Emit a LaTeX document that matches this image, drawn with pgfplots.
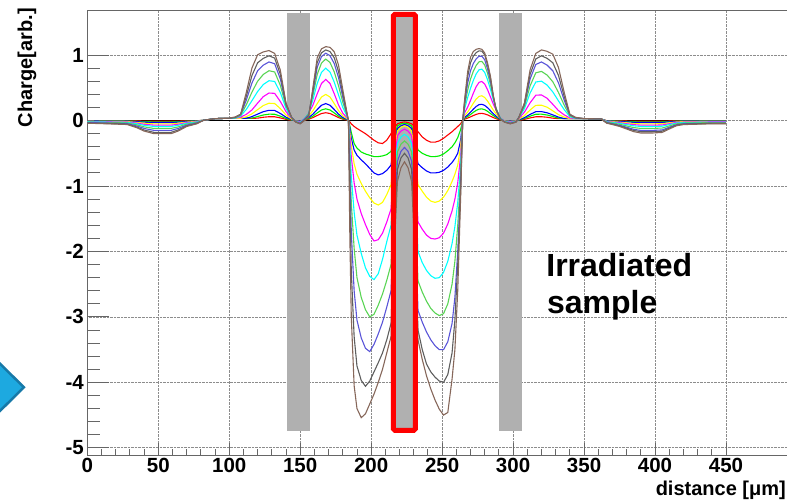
\documentclass[border=0pt]{standalone}
\usepackage{pgfplots}
\pgfplotsset{compat=1.18}
\usepackage{pgfplotstable}
\usepackage{fontspec}
\setmainfont{Liberation Sans}

\definecolor{cRD}{RGB}{255,0,0}
\definecolor{cGN}{RGB}{0,238,0}
\definecolor{cBL}{RGB}{0,0,255}
\definecolor{cYE}{RGB}{255,255,0}
\definecolor{cMG}{RGB}{255,0,255}
\definecolor{cCY}{RGB}{0,255,255}
\definecolor{cLG}{HTML}{59D454}
\definecolor{cSL}{HTML}{5954D8}
\definecolor{cGR}{HTML}{5E5E5E}
\definecolor{cBR}{HTML}{86675A}
\definecolor{bandgray}{HTML}{B0B0B0}
\definecolor{arrowfill}{HTML}{1DA9E0}
\definecolor{arrowedge}{HTML}{1779A8}

\pgfplotstableread{
x r g b y m c lg sl gr br
0 -0.002 -0.004 -0.006 -0.010 -0.014 -0.018 -0.024 -0.030 -0.036 -0.040
15 -0.003 -0.005 -0.008 -0.013 -0.018 -0.023 -0.030 -0.038 -0.045 -0.050
28 -0.003 -0.006 -0.009 -0.015 -0.021 -0.027 -0.036 -0.045 -0.054 -0.060
35 -0.006 -0.011 -0.017 -0.028 -0.039 -0.050 -0.066 -0.083 -0.099 -0.110
40 -0.008 -0.016 -0.024 -0.040 -0.056 -0.072 -0.096 -0.120 -0.144 -0.160
47 -0.010 -0.020 -0.030 -0.050 -0.070 -0.090 -0.120 -0.150 -0.180 -0.200
59 -0.010 -0.020 -0.030 -0.050 -0.070 -0.090 -0.120 -0.150 -0.180 -0.200
64 -0.008 -0.016 -0.024 -0.040 -0.056 -0.072 -0.096 -0.120 -0.144 -0.160
70 -0.005 -0.009 -0.014 -0.023 -0.032 -0.041 -0.054 -0.068 -0.081 -0.090
77 -0.003 -0.005 -0.008 -0.013 -0.018 -0.023 -0.030 -0.038 -0.045 -0.050
82 0.005 0.005 0.005 0.005 0.005 0.005 0.005 0.005 0.005 0.005
90 0.030 0.030 0.030 0.030 0.030 0.030 0.030 0.030 0.030 0.030
100 0.035 0.035 0.035 0.035 0.035 0.035 0.035 0.035 0.035 0.038
104 0.035 0.035 0.035 0.035 0.035 0.035 0.039 0.045 0.050 0.054
108 0.035 0.035 0.035 0.035 0.052 0.069 0.081 0.089 0.094 0.096
112 0.035 0.035 0.035 0.059 0.095 0.170 0.239 0.311 0.369 0.428
116 0.035 0.038 0.061 0.103 0.163 0.304 0.435 0.575 0.688 0.803
120 0.037 0.062 0.099 0.167 0.267 0.444 0.601 0.760 0.883 1.006
124 0.051 0.085 0.136 0.230 0.366 0.551 0.705 0.847 0.951 1.049
128 0.059 0.098 0.157 0.265 0.421 0.609 0.762 0.896 0.990 1.070
132 0.058 0.097 0.155 0.261 0.416 0.598 0.743 0.869 0.955 1.027
136 0.041 0.068 0.109 0.184 0.292 0.429 0.539 0.637 0.707 0.770
140 0.019 0.032 0.051 0.086 0.138 0.185 0.219 0.244 0.258 0.268
144 0.005 0.008 0.013 0.022 0.034 0.042 0.046 0.047 0.046 0.043
147 -0.002 -0.003 -0.004 -0.007 -0.010 -0.015 -0.018 -0.021 -0.023 -0.025
150 -0.003 -0.005 -0.007 -0.013 -0.020 -0.029 -0.036 -0.042 -0.046 -0.050
153 0.005 0.008 0.012 0.018 0.030 0.030 0.025 0.020 0.010 0.000
156 0.022 0.032 0.047 0.072 0.113 0.113 0.108 0.092 0.075 0.057
159 0.046 0.068 0.099 0.152 0.239 0.321 0.390 0.442 0.475 0.509
162 0.078 0.117 0.169 0.260 0.410 0.568 0.705 0.814 0.886 0.961
165 0.108 0.162 0.234 0.360 0.567 0.737 0.879 0.977 1.036 1.096
168 0.120 0.180 0.260 0.400 0.630 0.800 0.940 1.030 1.080 1.130
171 0.108 0.162 0.234 0.360 0.567 0.742 0.888 0.992 1.055 1.119
174 0.078 0.117 0.169 0.260 0.410 0.587 0.743 0.871 0.959 1.051
177 0.046 0.068 0.099 0.152 0.239 0.393 0.531 0.658 0.750 0.848
180 0.022 0.032 0.047 0.072 0.113 0.202 0.282 0.358 0.415 0.475
183 0.008 0.013 0.018 0.028 0.044 0.063 0.080 0.094 0.103 0.113
184 0 0 0 0 0 0 0 0 0 0
185 -0.02 -0.08 -0.12 -0.18 -0.25 -0.40 -0.60 -0.80 -1.20 -1.80
186 -0.05 -0.18 -0.27 -0.38 -0.55 -0.85 -1.25 -1.70 -2.30 -3.00
188 -0.09 -0.35 -0.45 -0.66 -0.95 -1.40 -1.95 -2.60 -3.30 -4.05
190 -0.12 -0.42 -0.53 -0.82 -1.20 -1.75 -2.40 -3.05 -3.75 -4.40
193 -0.16 -0.48 -0.60 -0.96 -1.42 -2.03 -2.70 -3.32 -3.97 -4.54
196 -0.20 -0.51 -0.66 -1.08 -1.59 -2.25 -2.89 -3.48 -4.06 -4.48
199 -0.25 -0.53 -0.73 -1.18 -1.74 -2.38 -3.00 -3.53 -3.98 -4.33
202 -0.30 -0.55 -0.80 -1.26 -1.84 -2.43 -2.96 -3.42 -3.84 -4.18
205 -0.34 -0.55 -0.83 -1.29 -1.82 -2.34 -2.82 -3.26 -3.70 -4.00
208 -0.35 -0.54 -0.81 -1.25 -1.72 -2.12 -2.65 -3.08 -3.55 -3.80
211 -0.30 -0.52 -0.76 -1.13 -1.55 -1.85 -2.44 -2.85 -3.35 -3.55
214 -0.20 -0.47 -0.68 -0.98 -1.35 -1.60 -2.20 -2.60 -3.10 -3.30
216 -0.12 -0.28 -0.40 -0.55 -0.75 -0.95 -1.30 -1.60 -1.90 -2.10
218.5 -0.05 -0.08 -0.12 -0.16 -0.23 -0.35 -0.48 -0.62 -0.75 -0.93
221 -0.03 -0.05 -0.08 -0.10 -0.16 -0.25 -0.36 -0.47 -0.57 -0.72
223.5 -0.02 -0.04 -0.06 -0.08 -0.13 -0.21 -0.31 -0.41 -0.50 -0.63
226 -0.03 -0.05 -0.08 -0.10 -0.16 -0.25 -0.36 -0.47 -0.57 -0.72
228.5 -0.05 -0.08 -0.12 -0.16 -0.23 -0.35 -0.48 -0.62 -0.75 -0.93
231 -0.10 -0.28 -0.40 -0.55 -0.75 -0.95 -1.30 -1.60 -1.90 -2.10
233 -0.17 -0.45 -0.66 -0.98 -1.55 -2.00 -2.45 -2.90 -3.20 -3.35
236 -0.25 -0.50 -0.72 -1.08 -1.66 -2.17 -2.62 -3.08 -3.50 -3.65
239 -0.30 -0.53 -0.77 -1.17 -1.75 -2.29 -2.76 -3.23 -3.72 -3.90
242 -0.33 -0.55 -0.80 -1.23 -1.80 -2.37 -2.87 -3.35 -3.84 -4.10
245 -0.33 -0.55 -0.80 -1.25 -1.81 -2.41 -2.94 -3.44 -3.92 -4.27
248 -0.31 -0.54 -0.79 -1.23 -1.79 -2.40 -2.98 -3.50 -3.98 -4.41
251 -0.27 -0.51 -0.76 -1.17 -1.72 -2.32 -2.95 -3.50 -4.00 -4.50
254 -0.22 -0.46 -0.71 -1.07 -1.58 -2.15 -2.80 -3.38 -3.88 -4.46
257 -0.17 -0.40 -0.64 -0.93 -1.38 -1.88 -2.50 -3.10 -3.55 -3.95
259 -0.13 -0.34 -0.58 -0.82 -1.20 -1.62 -2.15 -2.70 -3.05 -3.50
261 -0.09 -0.26 -0.50 -0.68 -0.95 -1.25 -1.60 -2.00 -2.20 -2.60
263 -0.05 -0.14 -0.30 -0.40 -0.55 -0.70 -0.85 -1.00 -1.10 -1.20
264.5 0 0 0 0 0 0 0 0 0 0
266 0.023 0.038 0.052 0.079 0.125 0.191 0.241 0.284 0.324 0.352
268 0.038 0.062 0.086 0.131 0.206 0.352 0.466 0.573 0.674 0.748
270 0.057 0.093 0.129 0.195 0.308 0.493 0.634 0.762 0.883 0.968
272 0.077 0.126 0.175 0.266 0.419 0.614 0.755 0.873 0.985 1.056
274 0.095 0.156 0.216 0.329 0.519 0.713 0.844 0.943 1.039 1.089
276 0.107 0.175 0.244 0.370 0.584 0.776 0.898 0.984 1.066 1.100
278 0.110 0.179 0.249 0.379 0.598 0.786 0.904 0.983 1.060 1.089
280 0.102 0.167 0.232 0.353 0.557 0.736 0.850 0.929 1.005 1.034
282 0.087 0.142 0.197 0.299 0.472 0.625 0.722 0.789 0.855 0.880
284 0.067 0.109 0.152 0.231 0.364 0.482 0.558 0.610 0.662 0.682
286 0.047 0.077 0.106 0.162 0.255 0.318 0.353 0.369 0.386 0.385
288 0.030 0.049 0.068 0.103 0.163 0.183 0.187 0.177 0.171 0.154
291 0.008 0.013 0.018 0.027 0.042 0.040 0.035 0.030 0.025 0.022
294 -0.002 -0.003 -0.004 -0.006 -0.010 -0.014 -0.017 -0.020 -0.023 -0.025
298 -0.003 -0.005 -0.007 -0.012 -0.020 -0.028 -0.034 -0.040 -0.046 -0.050
302 -0.002 -0.003 -0.004 -0.006 -0.010 -0.014 -0.017 -0.020 -0.023 -0.025
304 0.005 0.008 0.011 0.019 0.032 0.041 0.046 0.047 0.046 0.043
308 0.019 0.032 0.045 0.077 0.128 0.182 0.217 0.244 0.258 0.270
312 0.041 0.068 0.095 0.163 0.272 0.422 0.532 0.637 0.707 0.778
316 0.058 0.097 0.136 0.233 0.388 0.590 0.730 0.857 0.942 1.026
320 0.059 0.098 0.137 0.235 0.392 0.602 0.752 0.896 0.990 1.080
324 0.051 0.085 0.119 0.204 0.340 0.542 0.695 0.847 0.951 1.058
328 0.037 0.062 0.087 0.149 0.248 0.437 0.593 0.760 0.883 1.015
332 0.030 0.038 0.053 0.091 0.152 0.300 0.429 0.575 0.688 0.810
336 0.030 0.030 0.031 0.053 0.088 0.167 0.236 0.311 0.369 0.432
340 0.030 0.030 0.030 0.030 0.040 0.059 0.073 0.085 0.090 0.097
344 0.030 0.030 0.030 0.030 0.030 0.030 0.035 0.040 0.045 0.050
350 0.030 0.030 0.030 0.030 0.030 0.030 0.030 0.030 0.030 0.030
362 0.025 0.025 0.025 0.025 0.025 0.025 0.025 0.025 0.025 0.025
366 -0.002 -0.004 -0.006 -0.011 -0.015 -0.019 -0.025 -0.032 -0.036 -0.040
370 -0.003 -0.006 -0.010 -0.016 -0.022 -0.029 -0.038 -0.048 -0.054 -0.061
375 -0.005 -0.009 -0.014 -0.024 -0.033 -0.042 -0.056 -0.071 -0.080 -0.089
380 -0.007 -0.014 -0.020 -0.034 -0.048 -0.061 -0.082 -0.102 -0.116 -0.129
385 -0.009 -0.018 -0.027 -0.045 -0.062 -0.080 -0.107 -0.134 -0.151 -0.169
390 -0.010 -0.020 -0.030 -0.050 -0.070 -0.090 -0.120 -0.150 -0.170 -0.190
398 -0.010 -0.020 -0.030 -0.050 -0.070 -0.090 -0.120 -0.150 -0.170 -0.190
405 -0.010 -0.019 -0.029 -0.048 -0.067 -0.086 -0.114 -0.143 -0.162 -0.181
410 -0.007 -0.014 -0.020 -0.034 -0.048 -0.061 -0.082 -0.102 -0.116 -0.129
415 -0.004 -0.008 -0.013 -0.021 -0.029 -0.038 -0.050 -0.063 -0.071 -0.080
420 -0.003 -0.006 -0.010 -0.016 -0.022 -0.029 -0.038 -0.048 -0.054 -0.061
430 -0.003 -0.006 -0.009 -0.015 -0.020 -0.026 -0.035 -0.044 -0.049 -0.055
440 -0.003 -0.005 -0.008 -0.013 -0.018 -0.023 -0.031 -0.039 -0.044 -0.049
450 -0.003 -0.005 -0.008 -0.013 -0.018 -0.023 -0.031 -0.039 -0.044 -0.049
}\chargetable

\begin{document}
\begin{tikzpicture}[x=1bp,y=1bp]
\begin{axis}[
  at={(87.3bp,48bp)}, anchor=south west,
  scale only axis, width=699.7bp, height=445bp,
  xmin=0, xmax=493, ymin=-5.11, ymax=1.69,
  xtick={0,50,...,450}, ytick={-5,-4,...,1},
  minor x tick num=4, minor y tick num=4,
  tick pos=left, tick align=inside,
  axis line style={black!60, line width=0.9bp},
  xtick style={black!60, line width=0.9bp, /pgfplots/major tick length=12.3bp, /pgfplots/minor tick length=6bp},
  ytick style={black!60, line width=0.9bp, /pgfplots/major tick length=22bp, /pgfplots/minor tick length=12.5bp},
  xmajorgrids, ymajorgrids,
  major grid style={densely dotted, black!45, line width=0.7bp},
  /pgf/number format/assume math mode=true,
  xticklabel={\bfseries\fontsize{20.5bp}{24bp}\selectfont\pgfmathprintnumber{\tick}},
  yticklabel={\bfseries\fontsize{20.5bp}{24bp}\selectfont\pgfmathprintnumber{\tick}},
  tick label style={text=black},
  clip=false,
]
\fill[bandgray] (axis cs:140.8,-4.745) rectangle (axis cs:157,1.647);
\fill[bandgray] (axis cs:290.3,-4.745) rectangle (axis cs:306.4,1.647);
\fill[bandgray] (axis cs:215.6,-4.73) rectangle (axis cs:231.2,1.62);
\addplot[black, line width=1bp] coordinates {(0,0) (450,0)};
\addplot[cRD, line width=1.1bp] table[x=x,y=r] {\chargetable};
\addplot[cGN, line width=1.1bp] table[x=x,y=g] {\chargetable};
\addplot[cBL, line width=1.1bp] table[x=x,y=b] {\chargetable};
\addplot[cYE, line width=1.1bp] table[x=x,y=y] {\chargetable};
\addplot[cMG, line width=1.1bp] table[x=x,y=m] {\chargetable};
\addplot[cCY, line width=1.1bp] table[x=x,y=c] {\chargetable};
\addplot[cLG, line width=1.1bp] table[x=x,y=lg] {\chargetable};
\addplot[cSL, line width=1.1bp] table[x=x,y=sl] {\chargetable};
\addplot[cGR, line width=1.1bp] table[x=x,y=gr] {\chargetable};
\addplot[cBR, line width=1.1bp] table[x=x,y=br] {\chargetable};
\draw[cRD, line width=5bp, rounded corners=1.5bp] (axis cs:215.6,-4.732) rectangle (axis cs:231.2,1.624);
\node[anchor=base west, inner sep=0, font=\bfseries\fontsize{32bp}{36bp}\selectfont] at (axis cs:323.3,-2.385) {Irradiated};
\node[anchor=base west, inner sep=0, font=\bfseries\fontsize{32bp}{36bp}\selectfont] at (axis cs:323.8,-2.945) {sample};
\end{axis}
\node[rotate=90, anchor=base east, inner sep=0, font=\bfseries\fontsize{20bp}{24bp}\selectfont] at (32,495) {Charge[arb.]};
\node[anchor=base east, inner sep=0, font=\bfseries\fontsize{20bp}{24bp}\selectfont] at (786,7) {distance [μm]};
\filldraw[fill=arrowfill, draw=arrowedge, line width=2.5bp, miter limit=10] (-3,142.3) -- (23.9,115.7) -- (-3,89.1) -- cycle;
\pgfresetboundingbox
\useasboundingbox (0,0) rectangle (787,503);
\end{tikzpicture}
\end{document}
